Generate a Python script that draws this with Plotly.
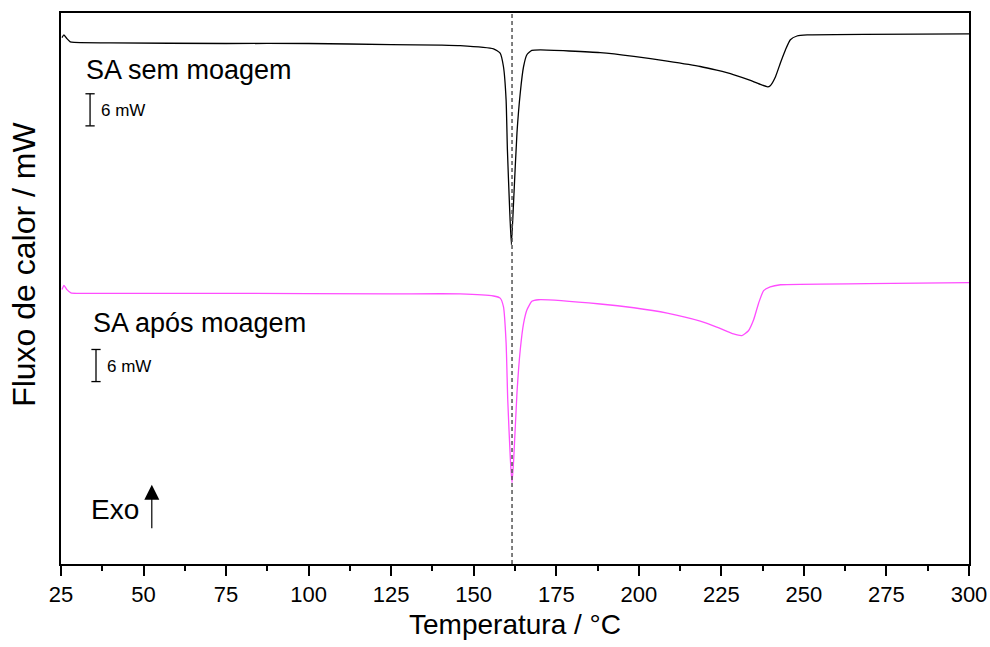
import plotly.graph_objects as go

# --- Data (Temperature in °C, heat flow in mW, offset curves) ---
t_sem = [25.3, 25.9, 26.8, 27.8, 29.0, 40.0, 75.0, 100.0, 125.0, 140.0, 145.9, 156.0, 158.0,
         159.0, 159.8, 160.2, 160.85, 161.4, 162.1, 163.1, 164.1, 165.1, 166.1, 167.6, 170.2,
         188.3, 198.5, 208.6, 218.6, 223.6, 228.6, 233.8, 237.0, 239.0, 239.8, 241.4, 242.9,
         244.4, 245.9, 247.9, 251.0, 300.0]
q_sem = [98.4, 98.9, 98.2, 97.6, 97.5, 97.4, 97.3, 97.3, 97.1, 97.0, 96.9, 96.3, 95.5,
         93.0, 86.8, 77.4, 66.8, 59.7, 68.1, 80.6, 88.1, 93.0, 95.2, 96.0, 96.1,
         95.6, 94.9, 94.0, 93.0, 92.3, 91.5, 90.4, 89.6, 89.2, 89.4, 91.1, 93.7,
         96.1, 98.0, 98.7, 98.9, 99.1]

t_apos = [25.3, 25.9, 26.8, 28.0, 30.0, 75.0, 125.0, 145.9, 156.0, 158.0, 159.0, 159.8,
          160.3, 161.1, 161.6, 162.1, 163.1, 164.1, 165.1, 166.1, 167.6, 169.6, 188.3,
          198.5, 208.6, 218.6, 223.6, 228.7, 231.2, 233.2, 234.8, 236.3, 237.8, 239.8,
          242.9, 269.2, 300.0]
q_apos = [51.3, 52.1, 51.3, 50.7, 50.6, 50.6, 50.5, 50.5, 50.1, 49.7, 48.1, 41.4,
          30.7, 19.5, 15.2, 19.5, 32.0, 40.1, 45.0, 47.5, 49.1, 49.4, 48.6,
          47.9, 46.9, 45.4, 44.3, 43.0, 42.7, 43.6, 45.7, 48.8, 51.1, 51.8,
          52.2, 52.4, 52.6]

t_melt = 161.6
labels = ["SA sem moagem", "SA após moagem"]
scale_mw = 6
x_ticks = [25, 50, 75, 100, 125, 150, 175, 200, 225, 250, 275, 300]

FONT = "Liberation Sans, Arial, sans-serif"

fig = go.Figure()
fig.add_trace(go.Scatter(x=t_sem, y=q_sem, mode="lines", line=dict(color="black", width=1.3, shape="spline", smoothing=0.5),
                         name=labels[0], showlegend=False))
fig.add_trace(go.Scatter(x=t_apos, y=q_apos, mode="lines", line=dict(color="#ff4dff", width=1.3, shape="spline", smoothing=0.5),
                         name=labels[1], showlegend=False))

# dashed vertical line at the melting point
fig.add_shape(type="line", xref="x", yref="paper", x0=t_melt, x1=t_melt, y0=0, y1=1,
              line=dict(color="#555555", width=1.5, dash="4px,3px"))

# scale bars (6 mW)
for xb, ytop in [(33.8, 87.9), (35.6, 40.1)]:
    ybot = ytop - scale_mw
    fig.add_shape(type="line", x0=xb, x1=xb, y0=ybot, y1=ytop, line=dict(color="black", width=1.3))
    for yy in (ybot, ytop):
        fig.add_shape(type="line", x0=xb - 1.4, x1=xb + 1.4, y0=yy, y1=yy, line=dict(color="black", width=1.3))

ann = [
    dict(x=32.1, y=92.4, text=labels[0], size=27),
    dict(x=34.0, y=45.0, text=labels[1], size=27),
    dict(x=36.6, y=84.8, text=f"{scale_mw} mW", size=17),
    dict(x=38.3, y=36.9, text=f"{scale_mw} mW", size=17),
    dict(x=33.5, y=10.1, text="Exo", size=28),
]
for a in ann:
    fig.add_annotation(x=a["x"], y=a["y"], text=a["text"], showarrow=False, xanchor="left", yanchor="middle",
                       font=dict(family=FONT, size=a["size"], color="black"))

# Exo arrow
fig.add_annotation(x=52.5, y=14.8, ax=52.5, ay=6.4, axref="x", ayref="y", xref="x", yref="y",
                   text="", showarrow=True, arrowhead=2, arrowsize=2.5, arrowwidth=1.2, arrowcolor="black")

# y-axis title as a rotated annotation
fig.add_annotation(xref="paper", yref="paper", x=-61/908 + 24/908, y=(564.3 - 265) / 551.3,
                   text="Fluxo de calor / mW", textangle=-90, showarrow=False,
                   xanchor="center", yanchor="middle", font=dict(family=FONT, size=32, color="black"))

fig.update_layout(
    width=990, height=647,
    margin=dict(l=61, r=21, t=13, b=83, autoexpand=False),
    plot_bgcolor="white", paper_bgcolor="white",
    font=dict(family=FONT, color="black"),
    xaxis=dict(range=[25, 300], tickvals=x_ticks, ticks="outside", ticklen=10, tickwidth=2, tickcolor="black",
               showline=True, linecolor="black", linewidth=2, mirror=True, showgrid=False, zeroline=False,
               automargin=False, tickfont=dict(size=22, family=FONT),
               minor=dict(ticks="outside", ticklen=5, tickwidth=2, tickcolor="black", dtick=12.5, tick0=12.5, showgrid=False),
               title=dict(text="Temperatura / °C", font=dict(size=28, family=FONT), standoff=8)),
    yaxis=dict(range=[0, 103], showticklabels=False, ticks="", showline=True, linecolor="black", linewidth=2,
               mirror=True, showgrid=False, zeroline=False, automargin=False),
)

fig.write_html("out.html")
